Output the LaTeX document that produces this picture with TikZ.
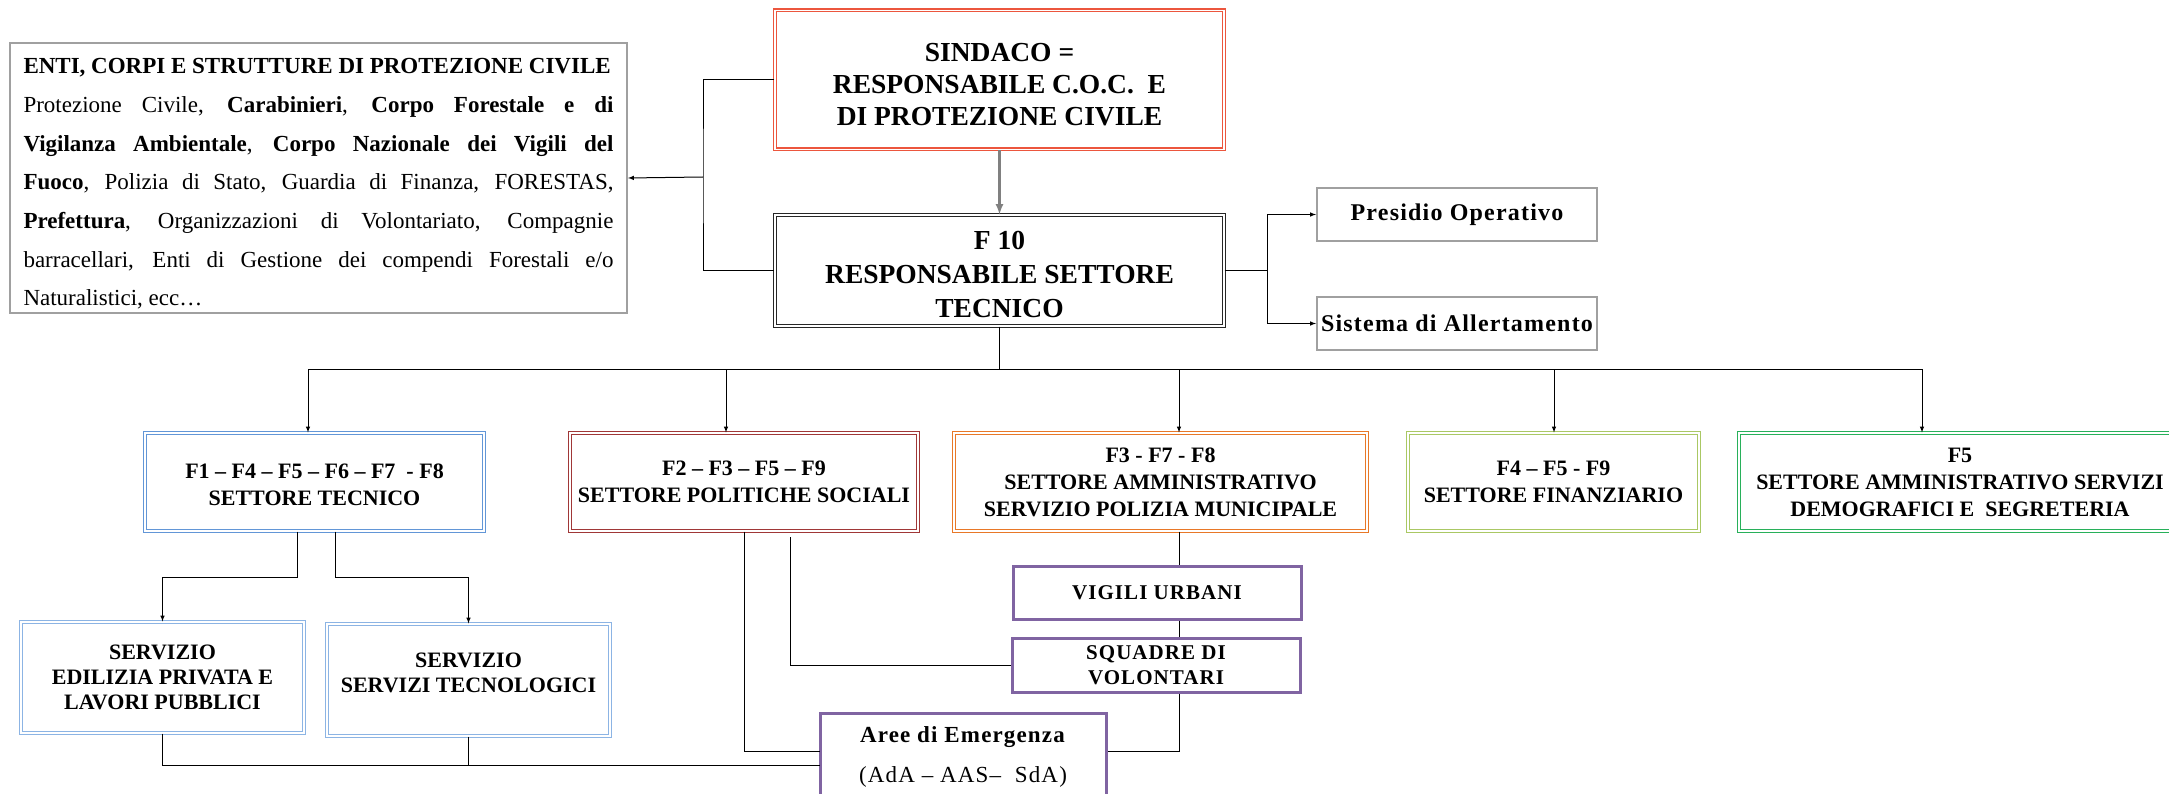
\documentclass[tikz,border=0pt]{standalone}
\usepackage{fontspec}
\setmainfont{Liberation Serif}
\newfontfamily\spaced[LetterSpace=5]{Liberation Serif}

\definecolor{sindred}{RGB}{236,86,62}
\definecolor{tecblue}{RGB}{98,150,215}
\definecolor{polred}{RGB}{160,55,55}
\definecolor{ammorange}{RGB}{232,120,40}
\definecolor{finlime}{RGB}{170,200,100}
\definecolor{demgreen}{RGB}{40,176,90}
\definecolor{servblue}{RGB}{140,180,228}
\definecolor{volpurple}{RGB}{128,100,162}
\definecolor{boxgray}{RGB}{160,160,160}

\tikzset{
  dbox/.style={draw=#1, double, line width=1.1pt, double distance=1.8pt,
    inner sep=0pt, align=center, font=\bfseries\fontsize{22}{27}\selectfont},
  topbox/.style={dbox=#1, font=\bfseries\fontsize{27.5}{32}\selectfont},
  gbox/.style={draw=boxgray, line width=2pt, inner sep=0pt, align=center,
    font=\spaced\bfseries\fontsize{24}{27}\selectfont},
  pbox/.style={draw=volpurple, line width=3pt, inner sep=0pt, align=center,
    font=\spaced\bfseries\fontsize{21}{25}\selectfont},
}

\begin{document}
\begin{tikzpicture}[x=1pt, y=-1pt, line width=1pt]
      \useasboundingbox (0,0) rectangle (2169,794);
      \node[draw=boxgray, line width=2pt, minimum width=617pt, minimum height=270pt,
        text width=590pt, inner xsep=13.5pt, inner ysep=4pt, align=justify,
        font=\fontsize{23}{38.7}\selectfont] (enti) at (318.5, 178)
        {\rule{0pt}{27pt}\textbf{ENTI, CORPI E STRUTTURE DI PROTEZIONE CIVILE}\\
        Protezione Civile, \textbf{Carabinieri}, \textbf{Corpo Forestale e di}\linebreak
        \textbf{Vigilanza Ambientale}, \textbf{Corpo Nazionale dei Vigili del}\linebreak
        \textbf{Fuoco}, Polizia di Stato, Guardia di Finanza, FORESTAS,\linebreak
        \textbf{Prefettura}, Organizzazioni di Volontariato, Compagnie\linebreak
        barracellari, Enti di Gestione dei compendi Forestali e/o\linebreak
        Naturalistici, ecc…};
      \node[topbox=sindred, minimum width=449pt, minimum height=139pt] (sind) at (999.5, 80)
        {\rule{0pt}{28pt}SINDACO =\\RESPONSABILE C.O.C.\ \ E\\DI PROTEZIONE CIVILE};
      \node[topbox=black!85, minimum width=449pt, minimum height=111pt,
        font=\bfseries\fontsize{27.5}{34}\selectfont] (f10) at (999.5, 270.5)
        {\rule{0pt}{27pt}F 10\\RESPONSABILE SETTORE\\TECNICO};
      \node[gbox, minimum width=280pt, minimum height=53pt] (pres) at (1457, 214.5) {Presidio Operativo};
      \node[gbox, minimum width=280pt, minimum height=53pt] (all) at (1457, 323.5) {Sistema di Allertamento};
      \node[dbox=tecblue, minimum width=339pt, minimum height=98pt] (settec) at (314.5, 482)
        {\rule{0pt}{20pt}F1 – F4 – F5 – F6 – F7\ \ - F8\\SETTORE TECNICO};
      \node[dbox=polred, minimum width=348pt, minimum height=98pt] (setpol) at (744, 482)
        {F2 – F3 – F5 – F9\\SETTORE POLITICHE SOCIALI};
      \node[dbox=ammorange, minimum width=413pt, minimum height=98pt] (setamm) at (1160.5, 482)
        {F3 - F7 - F8\\SETTORE AMMINISTRATIVO\\SERVIZIO POLIZIA MUNICIPALE};
      \node[dbox=finlime, minimum width=291pt, minimum height=98pt] (setfin) at (1553.5, 482)
        {F4 – F5 - F9\\SETTORE FINANZIARIO};
      \node[dbox=demgreen, minimum width=442pt, minimum height=98pt] (setdem) at (1960, 482)
        {F5\\SETTORE AMMINISTRATIVO SERVIZI\\DEMOGRAFICI E\ \ SEGRETERIA};
      \node[dbox=servblue, minimum width=283pt, minimum height=111pt,
        font=\bfseries\fontsize{22}{25}\selectfont] (edil) at (162.5, 677.5)
        {SERVIZIO\\EDILIZIA PRIVATA E\\LAVORI PUBBLICI};
      \node[dbox=servblue, minimum width=283pt, minimum height=112pt,
        font=\bfseries\fontsize{22}{25}\selectfont] (tecn) at (468.5, 680)
        {SERVIZIO\\SERVIZI TECNOLOGICI\\[-10pt]};
      \node[pbox, minimum width=288pt, minimum height=53pt] (vig) at (1157, 592.5) {VIGILI URBANI};
      \node[pbox, minimum width=288pt, minimum height=54pt] (squ) at (1156, 665) {SQUADRE DI\\VOLONTARI};
      \node[pbox, minimum width=286pt, minimum height=87pt,
        font=\spaced\fontsize{23}{40}\selectfont] (aree) at (963, 756.5)
        {\textbf{Aree di Emergenza}\\(AdA – AAS–\ \ SdA)};
      \coordinate (lj) at (703, 177);
      \coordinate (rj) at (1267, 270.5);
      \coordinate (bus) at (999.5, 369);
      \coordinate (ba) at (308, 369);
      \coordinate (bb) at (726, 369);
      \coordinate (bc) at (1179, 369);
      \coordinate (bd) at (1554, 369);
      \coordinate (be) at (1922, 369);
      \coordinate (ja) at (297, 577);
      \coordinate (jb) at (335, 577);
      \coordinate (ab) at (820, 765);
      \coordinate (ak) at (820, 751);
      \coordinate (bs) at (790, 537);
      \coordinate (cv) at (1179, 600);
      \draw[-latex, draw=gray, line width=2.5pt] (sind) -- (f10);
      \draw (sind.west) -| (lj) |- (f10.west);
      \draw[-latex] (lj) -- (enti.east);
      \draw (f10.east) -- (rj);
      \draw[-latex] (rj) |- (pres.west);
      \draw[-latex] (rj) |- (all.west);
      \draw (f10.south) -- (bus);
      \draw (ba) -- (be);
      \draw[-latex] (ba) -- (ba |- settec.north);
      \draw[-latex] (bb) -- (bb |- setpol.north);
      \draw[-latex] (bc) -- (bc |- setamm.north);
      \draw[-latex] (bd) -- (bd |- setfin.north);
      \draw[-latex] (be) -- (be |- setdem.north);
      \draw[-latex] (ja |- settec.south) -- (ja) -| (edil.north);
      \draw[-latex] (jb |- settec.south) -- (jb) -| (tecn.north);
      \draw (edil.south) |- (ab);
      \draw (tecn.south) -- (tecn.south |- ab);
      \draw (setpol.south) |- (ak);
      \draw (bs) |- (squ.west);
      \draw (cv |- setamm.south) -- (cv |- vig.north);
      \draw (cv |- vig.south) -- (cv |- squ.north);
      \draw (cv |- squ.south) |- (aree.east |- ak);
    \end{tikzpicture}
\end{document}
